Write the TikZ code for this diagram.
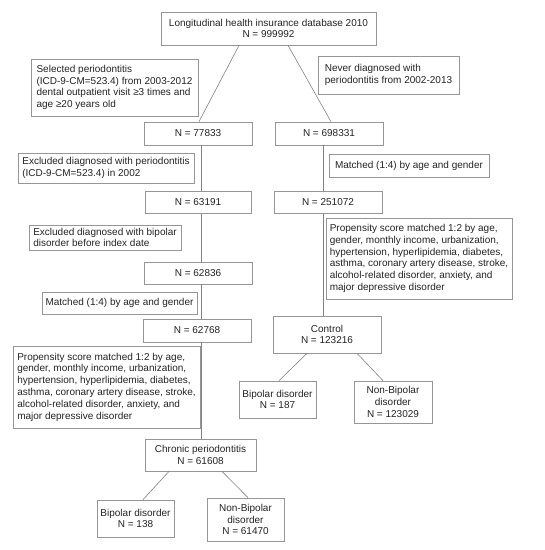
\documentclass[tikz,border=0pt]{standalone}
\usepackage{fontspec}
\setmainfont{Liberation Sans}
\definecolor{boxc}{RGB}{150,150,150}
\definecolor{linec}{RGB}{130,130,130}
\definecolor{txtc}{RGB}{35,35,35}
\begin{document}
\begin{tikzpicture}[x=1pt,y=-1pt,
  box/.style={draw=boxc,line width=0.7pt,text=txtc,inner sep=2pt,
    font=\fontsize{10}{11.8}\selectfont,align=center},
  lbox/.style={box,align=left},
  conn/.style={draw=linec,line width=0.6pt}]
\path[use as bounding box] (0,0) rectangle (545,550);
% boxes
\node[box,minimum width=215pt,minimum height=33pt] (top) at (268.5,28.5)
  {Longitudinal health insurance database 2010\\N = 999992};
\node[lbox,minimum width=167pt,minimum height=57pt] (sel) at (114.5,87.5)
  {Selected periodontitis\\(ICD-9-CM=523.4) from 2003-2012\\dental outpatient visit ≥3 times and\\age ≥20 years old};
\node[lbox,minimum width=141pt,minimum height=38pt] (never) at (388.5,75)
  {Never diagnosed with\\periodontitis from 2002-2013};
\node[box,minimum width=108pt,minimum height=23pt] (n1) at (198,133.5) {N = 77833};
\node[box,minimum width=108pt,minimum height=23pt] (r1) at (329,133.5) {N = 698331};
\node[lbox,minimum width=176pt,minimum height=30pt] (excl) at (106,168)
  {Excluded diagnosed with periodontitis\\(ICD-9-CM=523.4) in 2002};
\node[lbox,minimum width=160pt,minimum height=23pt] (matr) at (409,165.5)
  {Matched (1:4) by age and gender};
\node[box,minimum width=106pt,minimum height=22pt] (n2) at (198,202.5) {N = 63191};
\node[box,minimum width=108pt,minimum height=22pt] (r2) at (328,202.5) {N = 251072};
\node[lbox,minimum width=152pt,minimum height=25pt] (exbp) at (105,237.5)
  {Excluded diagnosed with bipolar\\disorder before index date};
\node[lbox,minimum width=186pt,minimum height=81pt] (propr) at (419,258.5)
  {Propensity score matched 1:2 by age,\\gender, monthly income, urbanization,\\hypertension, hyperlipidemia, diabetes,\\asthma, coronary artery disease, stroke,\\alcohol-related disorder, anxiety, and\\major depressive disorder};
\node[box,minimum width=108pt,minimum height=22pt] (n3) at (198,273) {N = 62836};
\node[lbox,minimum width=155pt,minimum height=22pt] (matl) at (119.5,303)
  {Matched (1:4) by age and gender};
\node[box,minimum width=108pt,minimum height=23pt] (n4) at (197,330.5) {N = 62768};
\node[box,minimum width=108pt,minimum height=37pt] (ctrl) at (327,334.5)
  {Control\\N = 123216};
\node[lbox,minimum width=187pt,minimum height=82pt] (propl) at (106.5,387)
  {Propensity score matched 1:2 by age,\\gender, monthly income, urbanization,\\hypertension, hyperlipidemia, diabetes,\\asthma, coronary artery disease, stroke,\\alcohol-related disorder, anxiety, and\\major depressive disorder};
\node[box,minimum width=77pt,minimum height=37pt] (bpr) at (277.5,399.5)
  {Bipolar disorder\\N = 187};
\node[box,minimum width=78pt,minimum height=42pt] (nbpr) at (393,402)
  {Non-Bipolar\\disorder\\N = 123029};
\node[box,minimum width=111pt,minimum height=32pt] (chr) at (200.5,455)
  {Chronic periodontitis\\N = 61608};
\node[box,minimum width=77pt,minimum height=37pt] (bpl) at (135.5,518.5)
  {Bipolar disorder\\N = 138};
\node[box,minimum width=77pt,minimum height=43pt] (nbpl) at (245.5,519.5)
  {Non-Bipolar\\disorder\\N = 61470};
% connectors
\coordinate (lx) at (201.5,0);
\coordinate (rx) at (323,0);
\draw[conn] ([xshift=-29.5pt]top.south) -- ([xshift=1pt]n1.north);
\draw[conn] ([xshift=19.5pt]top.south) -- ([xshift=2pt]r1.north);
\draw[conn] (n1.south -| lx) -- (n2.north -| lx);
\draw[conn] (n2.south -| lx) -- (n3.north -| lx);
\draw[conn] (n3.south -| lx) -- (n4.north -| lx);
\draw[conn] (n4.south -| lx) -- (chr.north -| lx);
\draw[conn] (r1.south -| rx) -- (r2.north -| rx);
\draw[conn] (r2.south -| rx) -- (ctrl.north -| rx);
\draw[conn] ([xshift=-20pt]ctrl.south) -- ([xshift=1.5pt]bpr.north);
\draw[conn] ([xshift=30pt]ctrl.south) -- ([xshift=-10pt]nbpr.north);
\draw[conn] ([xshift=-31.5pt]chr.south) -- ([xshift=7.5pt]bpl.north);
\draw[conn] ([xshift=21.5pt]chr.south) -- ([xshift=2.5pt]nbpl.north);
\end{tikzpicture}
\end{document}
